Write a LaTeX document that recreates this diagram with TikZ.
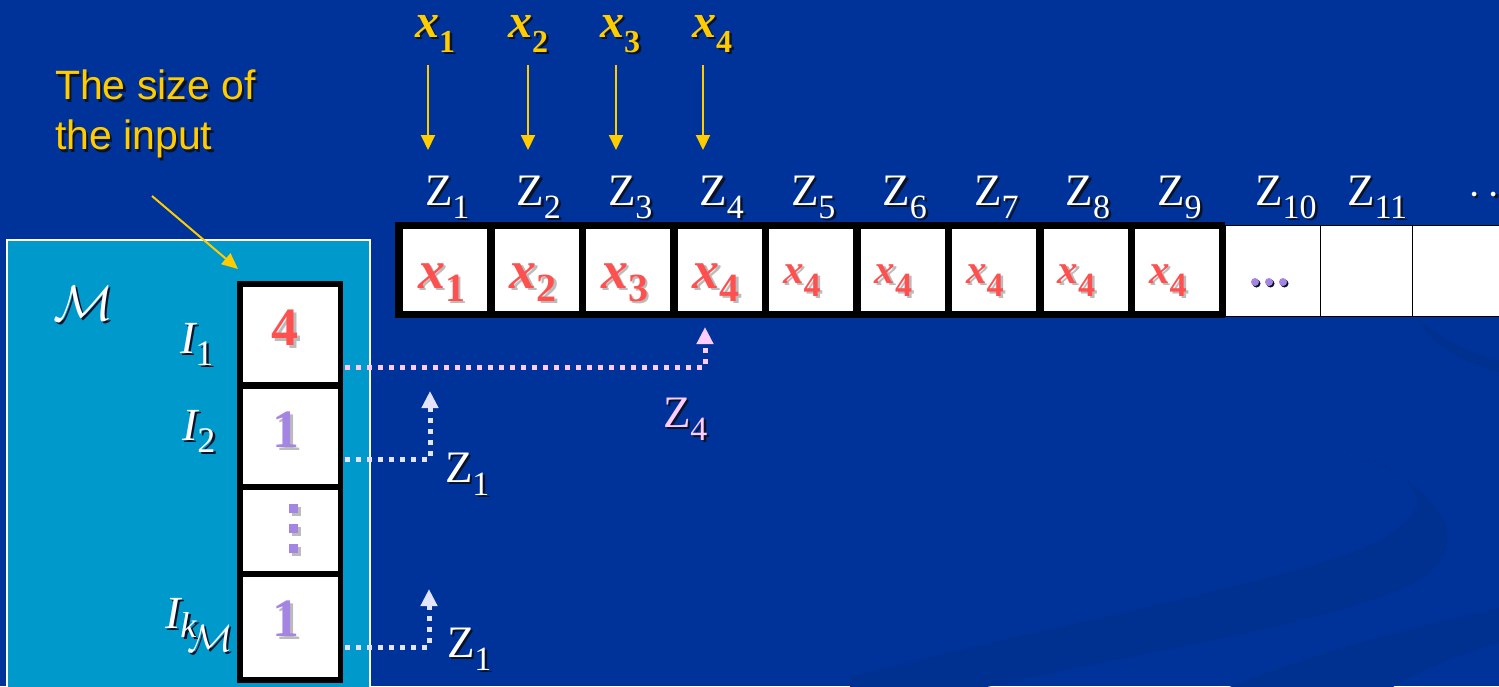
\documentclass[tikz,border=0pt]{standalone}
\usepackage{fix-cm}
\usepackage{fontspec}
\setmainfont{Liberation Serif}
\newfontfamily\arialfont{Liberation Sans}
\usetikzlibrary{arrows.meta}
\definecolor{bgblue}{HTML}{003399}
\definecolor{swoosh}{HTML}{003090}
\definecolor{boxcyan}{HTML}{0099CC}
\definecolor{ylw}{HTML}{FFCC00}
\definecolor{rd}{HTML}{FF5050}
\definecolor{prp}{HTML}{A486E2}
\definecolor{pnk}{HTML}{FFCCFF}
\definecolor{lav}{HTML}{E4E4FF}
\definecolor{shd}{HTML}{0A1228}
\definecolor{lshd}{HTML}{BBBBBB}
\newcommand\shtext[3]{\leavevmode\rlap{\hspace{2.5pt}\raisebox{-2.5pt}{\color{#2}#3}}{\color{#1}#3}}
\newcommand\fs[1]{\fontsize{#1}{#1}\selectfont}
\newcommand\zl[1]{{\fs{45}Z}\raisebox{-13pt}{\fs{34}#1}}
\newcommand\xl[4]{{\fs{#2}\bfseries\itshape x}\raisebox{-#4}{\fs{#3}\bfseries #1}}
\begin{document}
\begin{tikzpicture}[x=1pt,y=-1pt,
  every node/.style={inner sep=0pt,outer sep=0pt},
  tapecell/.style={fill=white,minimum width=84pt,minimum height=82pt},
  extcell/.style={draw=black,line width=1pt,fill=white,minimum height=91pt},
  regcell/.style={fill=white,minimum width=95pt},
  lbl/.style={anchor=base west},
  topar/.style={draw=ylw,line width=2pt,-{Triangle[length=15pt,width=14pt]}},
  pinkdot/.style={draw=pnk,line width=5pt,dash pattern=on 5pt off 6pt,-{Triangle[length=17pt,width=16pt]}},
  lavdot/.style={draw=lav,line width=5pt,dash pattern=on 5pt off 6pt,-{Triangle[length=17pt,width=16pt]}}
]
\useasboundingbox (0,0) rectangle (1499,686);
\fill[bgblue] (0,0) rectangle (1499,686);
% background swooshes
\fill[swoosh] (1020,318) .. controls (1080,378) and (1290,415) .. (1390,470)
  .. controls (1460,510) and (1470,560) .. (1400,590)
  .. controls (1300,630) and (1100,660) .. (974,690) -- (850,690) -- (850,677)
  .. controls (1050,625) and (1300,580) .. (1380,540)
  .. controls (1425,515) and (1430,490) .. (1385,466)
  .. controls (1280,414) and (1075,374) .. (1020,318) -- cycle;
\fill[swoosh] (1222,690) .. controls (1320,650) and (1420,625) .. (1499,608) -- (1499,643)
  .. controls (1450,658) and (1420,670) .. (1388,690) -- cycle;
\fill[swoosh] (1417,317) .. controls (1440,340) and (1470,352) .. (1499,360) -- (1499,372)
  .. controls (1460,362) and (1430,345) .. (1417,317) -- cycle;

% machine box
\draw[fill=boxcyan,draw=white,line width=1.5pt] (7,240) rectangle (370,700);
\node[lbl] (M) at (53,320) {\shtext{white}{shd}{\fs{50}$\mathcal{M}$}};

% registers
\node[fill=black,minimum width=106pt,minimum height=402pt] (reg) at (290,482) {};
\node[regcell,minimum height=95pt] (r1) at (290.5,334.5) {};
\node[regcell,minimum height=95pt] (r2) at (290.5,436.5) {};
\node[regcell,minimum height=81pt] (r3) at (290.5,530.5) {};
\node[regcell,minimum height=100pt] (r4) at (290.5,627) {};
\node (d1) at (285,329) {\shtext{rd}{lshd}{\fs{54}\bfseries 4}};
\node (d2) at (286,431) {\shtext{prp}{lshd}{\fs{54}\bfseries 1}};
\node (d4) at (286,620) {\shtext{prp}{lshd}{\fs{54}\bfseries 1}};
\foreach \yy in {504,524,544} {
  \fill[lshd] (292,\yy+3) rectangle +(9,9);
  \fill[prp] (289,\yy) rectangle +(9,9);
}
\node[lbl] (i1) at (180,353) {\shtext{white}{shd}{{\fs{46}\itshape I}\raisebox{-12pt}{\fs{36}1}}};
\node[lbl] (i2) at (182,440) {\shtext{white}{shd}{{\fs{46}\itshape I}\raisebox{-12pt}{\fs{36}2}}};
\node[lbl] (ik) at (165,628) {\shtext{white}{shd}{{\fs{46}\itshape I}\raisebox{-9pt}{\fs{36}\itshape k}\kern-9pt\raisebox{-23pt}{\fs{38}$\mathcal{M}$}}};

% annotation
\node[anchor=north west,align=left,font={\arialfont\fontsize{41}{50}\selectfont}] (ann) at (55,70)
  {\shtext{ylw}{shd}{The size of}\\\shtext{ylw}{shd}{the input}};
\coordinate (anns) at (152,196);
\coordinate (anne) at (238,269);
\draw[draw=ylw,line width=2pt,-{Triangle[length=16pt,width=14pt]}] (anns) -- (anne);

% tape
\node[fill=black,minimum width=830pt,minimum height=96pt] (tape) at (810,270) {};
\foreach \i in {1,...,9} {
  \node[tapecell] (c\i) at ({445+91.5*(\i-1)},270) {};
  \node[lbl] (z\i) at ({445+91.5*(\i-1)-20},205) {\shtext{white}{shd}{\zl{\i}}};
}
\node[extcell,minimum width=95pt] (c10) at (1272.5,270.5) {};
\node[extcell,minimum width=92pt] (c11) at (1366,270.5) {};
\node[extcell,minimum width=98pt] (c12) at (1461,270.5) {};
\node[lbl] (z10) at (1255,205) {\shtext{white}{shd}{\zl{10}}};
\node[lbl] (z11) at (1347,205) {\shtext{white}{shd}{\zl{11}}};
\node[lbl] (zdots) at (1468,205) {\shtext{white}{shd}{\fs{44}$\cdots$}};
\foreach \xx in {1255,1269,1283} {
  \fill[shd] (\xx+1.5,283.5) circle (4);
  \fill[prp] (\xx,282) circle (4);
}
\foreach \i in {1,...,4} {
  \node[lbl] (v\i) at ({445+91.5*(\i-1)-27},288) {\shtext{rd}{lshd}{\xl{\i}{54}{40}{13pt}}};
}
\foreach \i in {5,...,9} {
  \node[lbl] (v\i) at ({445+91.5*(\i-1)-28},283) {\shtext{rd}{lshd}{\xl{4}{41}{34}{13pt}}};
}

% inputs on top
\node[lbl] (tx1) at (415,37) {\shtext{ylw}{shd}{\xl{1}{48}{32}{15pt}}};
\node[lbl] (tx2) at (508,37) {\shtext{ylw}{shd}{\xl{2}{48}{32}{15pt}}};
\node[lbl] (tx3) at (600,37) {\shtext{ylw}{shd}{\xl{3}{48}{32}{15pt}}};
\node[lbl] (tx4) at (692,37) {\shtext{ylw}{shd}{\xl{4}{48}{32}{15pt}}};
\coordinate (a1s) at (428,65); \coordinate (a1e) at (428,150);
\coordinate (a2s) at (528,65); \coordinate (a2e) at (528,150);
\coordinate (a3s) at (616,65); \coordinate (a3e) at (616,150);
\coordinate (a4s) at (703,65); \coordinate (a4e) at (703,150);
\draw[topar] (a1s) -- (a1e);
\draw[topar] (a2s) -- (a2e);
\draw[topar] (a3s) -- (a3e);
\draw[topar] (a4s) -- (a4e);

% pointers
\coordinate (t4) at (705,327);
\coordinate (t1a) at (430,391);
\coordinate (t1b) at (429,589);
\draw[pinkdot] ([xshift=7pt,yshift=15pt]r1.south east) -| (t4);
\draw[lavdot] ([xshift=7pt,yshift=25pt]r2.south east) -| (t1a);
\draw[lavdot] ([xshift=7pt,yshift=30pt]r4.south east) -| (t1b);
\node[lbl] (pz4) at (663,427) {\shtext{pnk}{shd}{\zl{4}}};
\node[lbl] (pz1a) at (445,482) {\shtext{white}{shd}{\zl{1}}};
\node[lbl] (pz1b) at (447,657) {\shtext{white}{shd}{\zl{1}}};
\end{tikzpicture}
\end{document}
